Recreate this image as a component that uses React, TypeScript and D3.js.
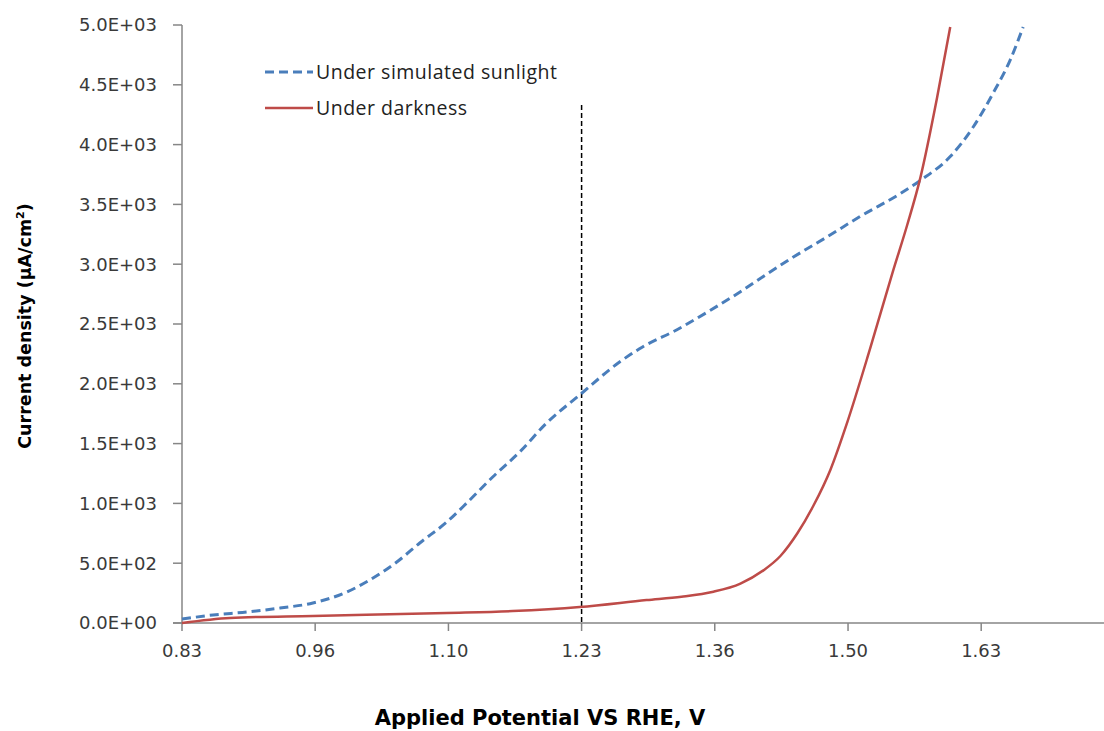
import React from "react";
import * as d3 from "d3";

// potential (V vs RHE) and current density (µA/cm²)
const sunlightV = [0.83, 0.861, 0.895, 0.928, 0.961, 0.995, 1.018, 1.045, 1.068, 1.095, 1.115, 1.141, 1.168, 1.195, 1.228, 1.268, 1.291, 1.325, 1.358, 1.389, 1.416, 1.442, 1.476, 1.509, 1.549, 1.569, 1.599, 1.622, 1.642, 1.659, 1.672];
const sunlightJ = [33, 67, 92, 125, 167, 259, 360, 510, 669, 844, 1003, 1221, 1430, 1672, 1906, 2182, 2308, 2450, 2610, 2770, 2920, 3060, 3230, 3400, 3590, 3700, 3900, 4147, 4431, 4707, 4983];

const darkV = [0.83, 0.878, 0.961, 1.095, 1.161, 1.228, 1.295, 1.33, 1.362, 1.389, 1.412, 1.429, 1.446, 1.462, 1.479, 1.496, 1.519, 1.542, 1.556, 1.569, 1.586, 1.599];
const darkJ = [0, 42, 59, 84, 100, 134, 192, 220, 262, 330, 440, 560, 750, 980, 1280, 1680, 2300, 2950, 3330, 3720, 4400, 4983];

const xTicks = [0.83, 0.9633, 1.0967, 1.23, 1.3633, 1.4967, 1.63];
const yTicks = [0, 500, 1000, 1500, 2000, 2500, 3000, 3500, 4000, 4500, 5000];
const markerV = 1.23;

const W = 1104;
const H = 731;
const axisColor = "#868686";
const blue = "#4a7ebb";
const red = "#be4b48";

export default function App() {
  const x = d3.scaleLinear().domain([0.83, 0.83 + 7 * 0.133333]).range([182, 182 + 7 * 133.2]);
  const y = d3.scaleLinear().domain([0, 5000]).range([623, 25]);

  const line = d3
    .line<[number, number]>()
    .x((d) => x(d[0]))
    .y((d) => y(d[1]))
    .curve(d3.curveMonotoneX);

  const sun = sunlightV.map((v, i) => [v, sunlightJ[i]] as [number, number]);
  const dark = darkV.map((v, i) => [v, darkJ[i]] as [number, number]);

  const fmtY = (v: number) => {
    if (v === 0) return "0.0E+00";
    const e = Math.floor(Math.log10(v));
    return `${(v / Math.pow(10, e)).toFixed(1)}E+${String(e).padStart(2, "0")}`;
  };

  return (
    <div style={{ position: "absolute", left: 0, top: 0 }}>
      <svg width={W} height={H} style={{ display: "block", background: "#fff" }}>
        {/* y axis */}
        <line x1={x(0.83)} x2={x(0.83)} y1={y(5000)} y2={y(0)} stroke={axisColor} strokeWidth={1.5} />
        {yTicks.map((t) => (
          <g key={t}>
            <line x1={x(0.83) - 9} x2={x(0.83)} y1={y(t)} y2={y(t)} stroke={axisColor} strokeWidth={1.5} />
            <text
              x={157}
              y={y(t)}
              dy="0.35em"
              textAnchor="end"
              fontFamily="DejaVu Sans"
              fontSize={18}
              fill="#3a3a3a"
            >
              {fmtY(t)}
            </text>
          </g>
        ))}

        {/* x axis */}
        <line x1={x(0.83) - 9} x2={W} y1={y(0)} y2={y(0)} stroke={axisColor} strokeWidth={1.5} />
        {xTicks.map((t) => (
          <g key={t}>
            <line x1={x(t)} x2={x(t)} y1={y(0)} y2={y(0) + 8} stroke={axisColor} strokeWidth={1.5} />
            <text
              x={x(t)}
              y={y(0) + 34}
              textAnchor="middle"
              fontFamily="DejaVu Sans"
              fontSize={18}
              fill="#3a3a3a"
            >
              {t.toFixed(2)}
            </text>
          </g>
        ))}

        {/* 1.23 V marker */}
        <line
          x1={x(markerV)}
          x2={x(markerV)}
          y1={105}
          y2={y(0)}
          stroke="#000"
          strokeWidth={1.5}
          strokeDasharray="5,3"
        />

        {/* series */}
        <path d={line(sun) ?? ""} fill="none" stroke={blue} strokeWidth={3} strokeDasharray="9,5" />
        <path d={line(dark) ?? ""} fill="none" stroke={red} strokeWidth={2.5} />

        {/* legend */}
        <line x1={265} x2={313} y1={72} y2={72} stroke={blue} strokeWidth={3} strokeDasharray="9,5" />
        <text x={316} y={72} dy="0.35em" fontFamily="Open Sans" fontSize={19.5} letterSpacing={0.5} fill="#222">
          Under simulated sunlight
        </text>
        <line x1={265} x2={313} y1={108} y2={108} stroke={red} strokeWidth={2.5} />
        <text x={316} y={108} dy="0.35em" fontFamily="Open Sans" fontSize={19.5} letterSpacing={0.5} fill="#222">
          Under darkness
        </text>

        {/* axis titles */}
        <text
          x={540}
          y={725}
          textAnchor="middle"
          fontFamily="DejaVu Sans"
          fontWeight="bold"
          fontSize={21}
          fill="#000"
        >
          Applied Potential VS RHE, V
        </text>
        <text
          transform={`translate(31, 326) rotate(-90)`}
          textAnchor="middle"
          fontFamily="DejaVu Sans"
          fontWeight="bold"
          fontSize={17.5}
          fill="#000"
        >
          Current density (µA/cm<tspan dy={-7} fontSize={11}>2</tspan>
          <tspan dy={7}>)</tspan>
        </text>
      </svg>
    </div>
  );
}
